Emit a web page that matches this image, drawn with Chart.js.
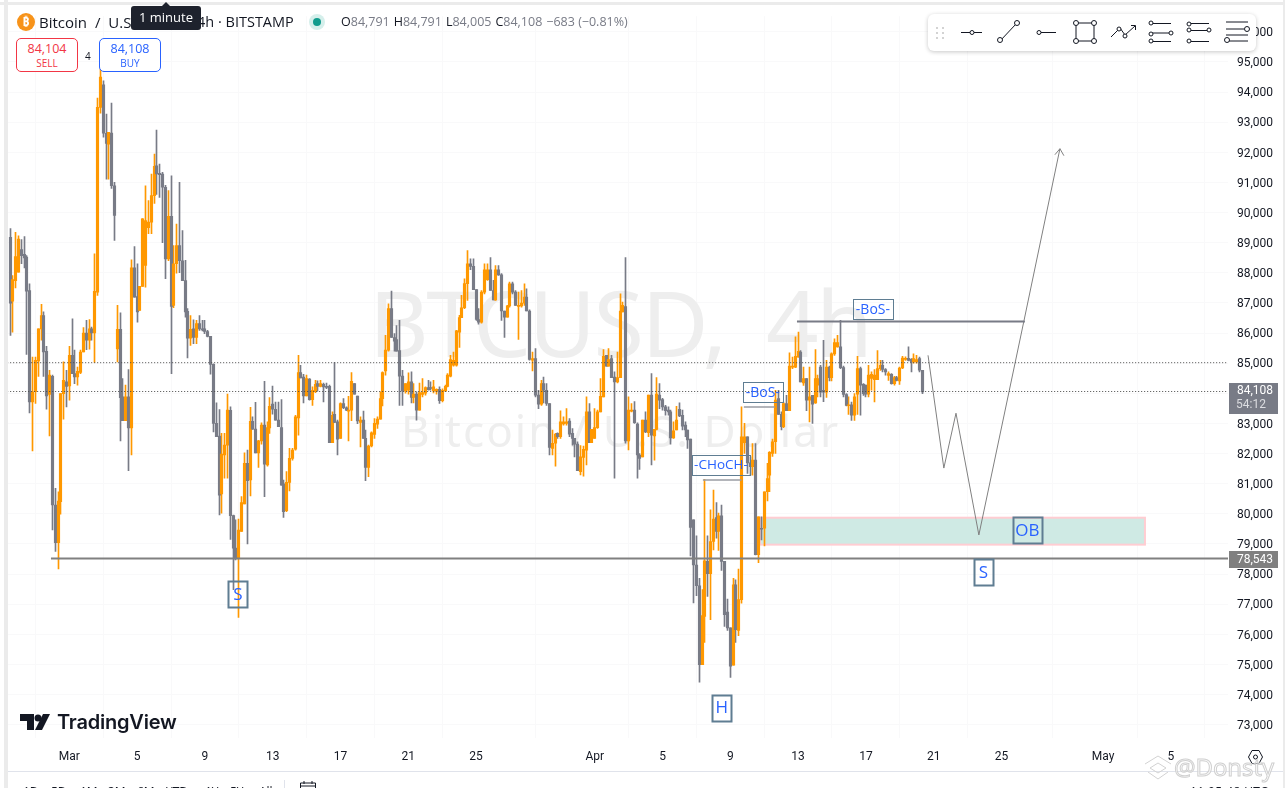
<!DOCTYPE html>
<html>
<head>
<meta charset="utf-8">
<title>BTCUSD 4h</title>
<script src="https://cdn.jsdelivr.net/npm/chart.js@4"></script>
<style>
    html, body { margin: 0; padding: 0; background: #fff; width: 1285px; height: 788px; overflow: hidden; }
    body { font-family: "Open Sans", "Noto Sans", sans-serif; color: #131722; position: relative; }
    canvas { position: absolute; left: 0; top: 0; }
    .abs { position: absolute; white-space: nowrap; }
    .band { position: absolute; background: #ebebeb; }
    .btn { position: absolute; top: 38px; width: 60px; height: 32px; border: 1px solid; border-radius: 5px; background: #fff; text-align: center; }
    .btn b { display: block; font-weight: 400; font-size: 12.5px; line-height: 16px; margin-top: 2px; }
    .btn span { display: block; font-size: 10px; line-height: 13px; }
    .range { position: absolute; top: 783px; font-size: 12px; color: #131722; }
    .ohlc i { font-style: normal; color: #787b86; margin-right: 4px; }
</style>
</head>
<body>
<canvas id="btcChart" width="1285" height="788"></canvas>

<div class="band" style="left:4px;top:0;width:4px;height:788px"></div>
<div class="band" style="left:0;top:2px;width:1285px;height:3px"></div>
<div class="band" style="left:1283px;top:0;width:2px;height:788px"></div>
<div class="abs" style="left:8px;top:771px;width:1275px;height:1px;background:#e0e3eb"></div>
<div class="abs" style="left:284px;top:780px;width:1px;height:8px;background:#e0e3eb"></div>

<!-- header -->
<div class="abs" style="left:17px;top:13px;width:18px;height:18px;border-radius:9px;background:#f7931a;color:#fff;font-size:12px;font-weight:700;line-height:18px;text-align:center">₿</div>
<div class="abs" style="left:39px;top:12px;font-size:15px;line-height:20px;word-spacing:4px">Bitcoin / U.S</div>
<div class="abs" style="left:197px;top:12px;font-size:14.500px;line-height:20px">4h · BITSTAMP</div>
<div class="abs" style="left:309px;top:14px;width:16px;height:16px;border-radius:8px;background:#d5efeb"></div>
<div class="abs" style="left:313px;top:18px;width:8px;height:8px;border-radius:4px;background:#119c8d"></div>
<div class="abs ohlc" style="left:341px;top:13px;font-size:12.500px;line-height:18px">O<i>84,791</i>H<i>84,791</i>L<i>84,005</i>C<i>84,108</i><i>−683 (−0.81%)</i></div>
<div class="abs" style="left:161px;top:2px;width:0;height:0;border-left:5px solid transparent;border-right:5px solid transparent;border-bottom:5px solid #1e222d"></div>
<div class="abs" style="left:131px;top:6px;width:70px;height:24px;background:#1e222d;border-radius:3px;color:#fff;font-size:13px;line-height:23px;text-align:center">1 minute</div>

<div class="btn" style="left:16px;border-color:#f23645;color:#f23645"><b>84,104</b><span>SELL</span></div>
<div class="abs" style="left:85px;top:49px;font-size:10px">4</div>
<div class="btn" style="left:99px;border-color:#2962ff;color:#2962ff"><b>84,108</b><span>BUY</span></div>

<!-- drawing toolbar -->
<div class="abs" style="left:928px;top:14px;width:328px;height:37px;background:#fff;border-radius:6px;box-shadow:0 1px 4px rgba(0,0,0,.22)"></div>
<svg class="abs" style="left:928px;top:14px" width="328" height="37" fill="#fff" stroke="#131722" stroke-width="1">
    <g fill="#c4c4c4" stroke="none"><circle cx="9" cy="14" r="1"/><circle cx="15" cy="14" r="1"/><circle cx="9" cy="19" r="1"/><circle cx="15" cy="19" r="1"/><circle cx="9" cy="24" r="1"/><circle cx="15" cy="24" r="1"/></g>
    <path d="M33 18.500H54"/><circle cx="44" cy="18.500" r="2"/>
    <path d="M72 27L88 10"/><circle cx="72" cy="26" r="2.500"/><circle cx="89" cy="9" r="2.500"/>
    <path d="M111 18.500H128"/><circle cx="111" cy="18.500" r="2"/>
    <path d="M148 9V27H166V9Z" fill="none"/><circle cx="148" cy="9" r="2.500"/><circle cx="166" cy="9" r="2.500"/><circle cx="148" cy="27" r="2.500"/><circle cx="166" cy="27" r="2.500"/>
    <path d="M183 23L192 14L197 21L207 12M203 11.500H207.500V16" fill="none"/><circle cx="191" cy="15" r="2"/><circle cx="197" cy="22" r="2"/>
    <path d="M224 9.500H243M224 27.500H243M224 19H241" fill="none"/><circle cx="223" cy="9" r="2"/><circle cx="223" cy="20" r="2"/><circle cx="223" cy="27" r="2"/><circle cx="243" cy="19" r="2"/>
    <path d="M262 9.500H281M262 27.500H281M262 16.500H281" fill="none"/><circle cx="261" cy="10" r="2"/><circle cx="261" cy="16" r="2"/><circle cx="261" cy="27" r="2"/><circle cx="281" cy="16" r="2"/>
    <path d="M298 8H320M298 15H316M298 21H320M298 27H320" fill="none"/><circle cx="319" cy="15" r="2.500"/><circle cx="299" cy="26" r="2.500"/>
</svg>

<!-- logo -->
<svg class="abs" style="left:20px;top:713px" width="32" height="18" fill="#131722">
    <path d="M0 1H14V17H7V8H0Z"/><circle cx="18" cy="5" r="3.500"/><path d="M23 1H30L22 17H15Z"/>
</svg>
<div class="abs" style="left:57px;top:709px;font-family:Inter,sans-serif;font-size:20px;font-weight:600;line-height:26px;letter-spacing:-.2px">TradingView</div>

<!-- bottom strip, mostly cut by the window -->
<div class="range" style="left:23px">1D</div><div class="range" style="left:51px">5D</div>
<div class="range" style="left:80px">1M</div><div class="range" style="left:108px">3M</div>
<div class="range" style="left:137px">6M</div><div class="range" style="left:166px">YTD</div>
<div class="range" style="left:205px">1Y</div><div class="range" style="left:230px">5Y</div>
<div class="range" style="left:259px">All</div>
<svg class="abs" style="left:299px;top:780px" width="18" height="8" fill="none" stroke="#131722"><path d="M1.500 8V3H16.500V8M5 1V4M13 1V4M1.500 6H16.500"/></svg>
<div class="range" style="left:1190px;letter-spacing:.4px">11:05:48 UTC</div>

<!-- gear -->
<svg class="abs" style="left:1247px;top:749px" width="17" height="16" fill="none" stroke="#131722"><path d="M5 1.500H12L15.500 8L12 14.500H5L1.500 8Z"/><circle cx="8.500" cy="8" r="2"/></svg>

<!-- repost watermark -->
<svg class="abs" style="left:1144px;top:755px" width="28" height="26" fill="none" stroke="#d2d2d2"><path d="M1 9L14 1L27 9M6 13L14 8L22 13L14 18ZM4 17L14 24L24 17"/></svg>
<div class="abs" style="left:1174px;top:750px;font-size:24px;line-height:34px;color:rgba(255,255,255,.6);-webkit-text-stroke:1px #d0d0d0">@Donsty</div>

<script>
// 4h candles
const opens = [
    89180,87060,87740,88020,88770,88610,88520,87410,83710,84050,
    85070,86140,86580,85390,83960,84560,80290,79040,80400,83990,
    84380,84240,85260,84650,84540,84690,85370,86000,85760,86140,
    86000,87360,93490,94240,92630,92270,92640,90890,85470,86120,
    83880,83090,83880,82850,88160,87210,86750,87550,88240,89500,
    89680,90560,91550,91300,91280,90840,88460,89870,86920,88300,
    88900,88400,87740,86720,85830,86140,85850,86310,86140,86140,
    86050,85890,84960,83000,82580,80660,81950,82280,83430,79940,
    78860,78520,79410,80330,81670,81120,83070,82810,82020,82420,
    82940,81620,82850,83640,83470,83110,82860,80990,80100,81040,
    81840,82140,83180,84690,84540,83910,84470,83790,84050,84320,
    84230,84300,84230,84230,82360,83300,83050,82500,83660,83520,
    83410,83440,84320,83910,83030,83110,82500,81540,82250,82630,
    82970,83140,83820,84740,85430,86810,85850,85780,85420,84570,
    84080,84100,84380,83860,83970,83440,83960,84000,84190,84190,
    84080,84060,84130,83750,84080,84230,84570,84930,84930,86030,
    86510,86840,87640,88300,88210,87440,86450,86360,87360,87770,
    88100,87410,87100,88100,87930,86730,86530,86900,87630,87360,
    86900,86900,86990,87190,86730,85100,85150,83940,83640,84320,
    84100,83660,82170,82340,82670,82560,82980,83000,83080,82670,
    82500,82310,81400,81870,82110,83380,82360,82500,82860,83380,
    83880,85260,84900,85150,84540,84380,84520,86700,86880,82420,
    83420,83440,82980,81950,81890,83110,82690,83940,82580,82800,
    83940,83790,83550,83440,83380,82520,82780,83470,83270,82940,
    82780,82480,79800,78300,77610,74990,76590,78420,78010,79080,
    79870,79410,79930,78420,76740,76210,74970,77640,76130,77150,
    82360,82550,81690,81560,81780,78640,79520,79520,80730,81280,
    82000,82390,83820,83300,82890,83660,83420,84870,84870,85200,
    85370,84340,84490,83770,83930,83680,84270,84870,84100,84040,
    84870,84520,85310,85540,85540,84850,83960,83600,83620,83270,
    83970,84820,84300,84270,83970,84490,84450,84450,84820,84930,
    84790,84590,84630,84320,84520,84410,84840,85130,85160,85130,
    85040,85040,85150,84763
];
const highs = [
    89470,87910,89340,89230,89100,89200,88570,87630,85200,85200,
    86140,86950,86700,85560,84760,84600,80840,80730,83990,85040,
    84760,85560,86470,85430,84870,85430,86180,86420,86450,86200,
    88630,93800,95090,94370,93270,92660,93630,91000,86920,86670,
    84490,84270,84790,88430,88870,88300,87550,89800,90890,90400,
    91280,91940,92740,91610,91330,90900,90730,91220,88900,89620,
    91000,89400,88410,86810,86580,86440,86420,86580,86420,86420,
    86090,85890,84980,83680,83460,82670,82670,83970,83550,79960,
    79800,79820,80570,82020,82110,83530,83220,83700,82440,83020,
    84400,83050,83860,84240,83710,83710,83790,81120,81400,82170,
    82170,83270,85260,84930,84630,84600,84490,84210,84430,84410,
    84430,84340,84340,84270,83380,85020,83110,83680,83820,83550,
    83900,84690,84320,83910,83220,83410,82780,82280,82720,83160,
    83220,84050,84710,85920,86970,87390,85980,86250,86420,84760,
    84320,84680,84710,84320,84050,84340,84490,84210,84430,84380,
    84430,84150,84210,84150,84270,84650,85260,85370,86090,86590,
    87250,87800,88740,88460,88460,87440,86810,87410,88300,88300,
    88500,87750,88240,88240,87970,86730,86920,87690,87690,87410,
    87360,87410,87630,87470,86770,85370,85480,84100,84430,84540,
    84320,83660,82780,82670,82690,83420,83220,83490,83160,82830,
    82500,82390,82260,82250,83880,83660,82800,83490,83440,84490,
    85450,85260,85480,85260,84710,85370,87300,87030,88500,83880,
    83660,83720,83020,82000,83110,83380,83940,84650,82800,84520,
    84320,83830,83600,83550,83440,83050,83570,83680,83440,83050,
    82780,82480,79800,79270,77860,77480,81140,79270,80130,80790,
    80370,80020,80290,78420,77170,76210,77860,77810,78160,83550,
    83000,82550,81890,82330,82330,79900,79900,80730,81670,82060,
    82480,84100,84100,83380,83710,83930,85340,85200,85870,86030,
    85420,84870,84490,84870,83930,85450,84600,84930,85760,85090,
    84900,85340,85810,85920,86420,84900,83990,83880,83710,83990,
    85230,84870,84320,84270,84930,84710,84790,85420,85090,85090,
    84820,84710,84650,84560,84560,84870,85230,85210,85540,85150,
    85310,85260,85200,84763
];
const lows = [
    85920,86030,87500,88020,88300,88160,85290,83350,82090,83660,
    84560,85760,84560,83470,82580,79460,78750,78170,79990,83140,
    83550,83770,84650,84320,84270,84650,85370,85450,85460,85760,
    85020,87250,93300,92500,91110,91110,90800,89070,85040,82420,
    83090,83090,81430,81950,87190,86360,86750,87550,87520,89300,
    89300,90300,90600,90500,89000,87800,88400,84650,86840,87990,
    88000,87740,86530,85170,85590,85650,85650,86090,86070,85980,
    85870,84630,82720,82560,79960,80020,81180,81180,79150,77480,
    78470,76560,79410,80330,79000,80590,82800,82020,81540,82310,
    80570,81580,82670,83310,83110,82890,80950,79880,80070,80760,
    81780,82110,82610,84510,83680,83910,83770,83600,84020,84070,
    84210,83710,84150,82360,82360,83020,81950,82500,83490,83420,
    82420,83090,83970,82990,82220,82500,81100,81230,82220,82500,
    82830,83140,83580,84600,85400,85850,85400,85400,83600,83600,
    84000,83970,83680,83680,83110,83440,83880,83940,84100,84100,
    84010,83970,83660,83710,84050,84210,84540,84900,84900,85520,
    86510,86810,87080,88100,87440,86420,86290,86330,87300,87750,
    87410,87100,87080,87910,86420,85850,86530,86860,87300,86920,
    85790,86860,86920,86730,85100,84740,83880,83490,83600,83680,
    83600,81950,81950,81580,82500,82500,82940,82940,82560,82280,
    81890,81430,81290,81250,81620,82360,82360,82500,82830,83380,
    83880,84900,84900,84520,81180,84340,84520,86700,82340,82120,
    83380,83000,81180,81470,81890,82690,82560,81620,81780,82780,
    83490,83440,83270,83270,82310,82500,82780,83220,82780,82560,
    82170,78600,77040,77280,74410,74990,75730,77260,76480,78800,
    79190,78780,78120,76260,76130,74570,74970,75730,75950,77030,
    82000,81340,81280,81280,78630,78380,79130,78930,80430,80730,
    81900,82000,83300,82780,82860,83420,83420,84820,84850,85200,
    84380,84260,83420,83050,83000,83660,83880,83880,83720,83860,
    84410,84410,85260,85530,84820,83880,83580,83300,83100,83100,
    83300,83270,83930,83880,83880,84100,83710,84450,84760,84710,
    84600,84430,84300,84270,84410,84290,84820,85090,85070,84710,
    85000,85000,84710,83990
];
const closes = [
    86990,87770,88540,89120,88570,88490,87390,83710,84050,85090,
    86140,86580,85370,83910,84600,80290,79040,80420,83990,84430,
    84230,85260,84650,84540,84730,85370,86000,85760,86140,86000,
    87380,93490,94500,92630,92290,92660,90890,89900,86120,83850,
    83090,83880,82850,88160,87190,86700,87550,89790,89730,89680,
    90560,91530,91280,91260,90840,88460,89870,86880,88300,88900,
    88400,87740,86700,85830,86120,85850,86310,86140,86110,86050,
    85890,84960,83000,82560,80620,81980,82280,83440,79940,78860,
    78520,79460,80370,81670,81100,83070,82810,82020,82420,82940,
    81650,82860,83570,83470,83110,82890,80950,80070,81040,81840,
    82110,83220,84690,84510,83910,84490,83790,84100,84300,84230,
    84320,84210,84210,82360,83270,83030,82480,83660,83520,83440,
    83440,84400,83970,83080,83110,82500,81540,82250,82690,83000,
    83140,83820,84690,85430,86810,85850,85730,85400,84570,84080,
    84320,84380,83860,83970,83440,84020,84020,84190,84120,84160,
    84210,84130,83750,84100,84230,84600,85120,85090,86070,86510,
    86840,87640,88300,88210,87440,86450,86360,87360,88100,88100,
    87410,87100,88100,87930,86730,86530,86900,87630,87360,86920,
    86920,86990,87190,86730,85120,85150,83940,83640,84320,84100,
    83660,82200,82340,82640,82560,83050,83050,83050,82640,82500,
    82310,81430,81890,82140,83380,82360,82800,82860,83380,83900,
    85230,84900,85120,84520,84380,84520,86730,86920,82420,83440,
    83440,83020,81950,81840,83110,82720,83940,82610,82800,83970,
    83770,83550,83420,83380,82520,82750,83110,83250,82910,82780,
    82450,79550,78300,77610,74990,76620,78440,78010,79080,79820,
    79410,79930,78420,76650,76210,74940,77640,76150,77150,82550,
    82550,81690,81560,81780,78640,79900,79500,80730,81170,82040,
    82390,83770,83300,82890,83660,83420,84900,84900,85230,85390,
    84380,84490,83770,83880,83640,84490,84490,84040,84040,84870,
    84520,85310,85680,85680,84850,83960,83600,83620,83270,83880,
    84820,84270,83990,83970,84600,84630,84600,84820,84930,84790,
    84710,84650,84320,84520,84430,84840,85170,85160,85090,85040,
    85150,85120,84770,84046
];

// axis ticks
const priceTicks = [73000,74000,75000,76000,77000,78000,79000,80000,81000,82000,83000,84000,85000,86000,87000,88000,89000,90000,91000,92000,93000,94000,95000,96000];
const timeTicks = [21,45,69,93,117,141,165,207,231,255,279,303,327,351,387,411];
const timeLabels = ['Mar','5','9','13','17','21','25','Apr','5','9','13','17','21','25','May','5'];

// levels and the drawn forecast, as read against the axis labels
const supportLevel = 78512;
const lastPrice = 84058;
const dottedLevel = 85015;
const bosLevel = 86386;
const chochLevel = 81120;
const lowerBosLevel = 83540;
const pathX = [325, 330.6, 334.9, 343, 359, 371.7];
const pathY = [85260, 81516, 83338, 79296, 86420, 92118];
const zoneX = [265.5, 401.8];
const zoneY = [79869, 78975];
const boxTexts = ['S', 'S', 'H', 'OB', '-CHoCH-', '-BoS-', '-BoS-'];
const boxX = [80.7, 344.6, 252, 360.2, 251.7, 266.5, 305.5];
const boxY = [77342, 78070, 73565, 79446, 81632, 84050, 86784];

const candleX = closes.map((c, i) => i);
const upColor = '#ff9800';
const downColor = '#787b86';
const candleColor = ctx => closes[ctx.dataIndex] >= opens[ctx.dataIndex] ? upColor : downColor;
const axisFont = { family: 'Roboto', size: 12 };

// watermark and OB zone sit under the candles
const underlay = {
    id: 'underlay',
    beforeDatasetsDraw(chart) {
        const { ctx, scales: { x, y } } = chart;
        ctx.save();
        ctx.textBaseline = 'alphabetic';
        ctx.textAlign = 'left';
        ctx.fillStyle = '#eeeeee';
        ctx.font = '92px "Noto Sans"';
        ctx.letterSpacing = '-2.5px';
        ctx.fillText('BTCUSD,', 369, 357);
        ctx.fillText('4h', 766, 357);
        ctx.font = '44px "Noto Sans"';
        ctx.letterSpacing = '2.05px';
        ctx.fillText('Bitcoin / U.S. Dollar', 401, 447);
        ctx.letterSpacing = '0px';
        const zx = x.getPixelForValue(zoneX[0]), zw = x.getPixelForValue(zoneX[1]) - zx;
        const zy = y.getPixelForValue(zoneY[0]), zh = y.getPixelForValue(zoneY[1]) - zy;
        ctx.fillStyle = '#cfeae4';
        ctx.fillRect(zx, zy, zw, zh);
        ctx.strokeStyle = '#ffcdd2';
        ctx.lineWidth = 2;
        ctx.strokeRect(zx, zy, zw, zh);
        ctx.restore();
    }
};

// keep candles on whole pixels, dojis at least 1px tall
const snapCandles = {
    id: 'snapCandles',
    afterDatasetsUpdate(chart) {
        [0, 1].forEach(d => {
            chart.getDatasetMeta(d).data.forEach(bar => {
                bar.x = Math.floor(bar.x) + 0.5;
                if (Math.abs(bar.base - bar.y) < 1) bar.base = bar.y + 1;
            });
        });
    }
};

// boxes, arrow head, price tags
const overlay = {
    id: 'overlay',
    afterDatasetsDraw(chart) {
        const { ctx, scales: { x, y } } = chart;
        ctx.save();
        ctx.textAlign = 'center';
        ctx.textBaseline = 'middle';
        boxTexts.forEach((t, i) => {
            const long = t.length > 2;
            const w = t === '-CHoCH-' ? 58 : t === '-BoS-' ? 40 : t === 'OB' ? 29 : 19;
            const h = long ? 20 : 26;
            const cx = x.getPixelForValue(boxX[i]), cy = y.getPixelForValue(boxY[i]);
            ctx.strokeStyle = '#5f7d92';
            ctx.lineWidth = long ? 1 : 2;
            ctx.strokeRect(Math.round(cx - w / 2) + 0.5, Math.round(cy - h / 2) + 0.5, w, h);
            ctx.fillStyle = '#2962ff';
            ctx.font = (t === '-CHoCH-' ? 13.5 : long ? 14 : 17) + 'px "Open Sans"';
            ctx.fillText(t, cx, cy + 1);
        });

        // arrow head on the forecast line
        const ax = x.getPixelForValue(pathX[pathX.length - 1]);
        const ay = y.getPixelForValue(pathY[pathY.length - 1]);
        ctx.strokeStyle = '#808080';
        ctx.lineWidth = 1;
        ctx.beginPath();
        ctx.moveTo(ax - 5, ay + 6);
        ctx.lineTo(ax, ay);
        ctx.lineTo(ax + 4, ay + 7);
        ctx.stroke();

        // right axis tags
        ctx.fillStyle = '#787b86';
        ctx.fillRect(1229, 383, 49, 31);
        ctx.fillStyle = '#808080';
        ctx.fillRect(1229, 551, 49, 17);
        ctx.font = '12px Roboto';
        ctx.fillStyle = '#ffffff';
        ctx.fillText('84,108', 1255, 391);
        ctx.fillText('78,543', 1255, 560);
        ctx.fillStyle = '#dcdde1';
        ctx.fillText('54:12', 1251, 405);
        ctx.restore();
    }
};

const hLine = (level, from, to, color, width, dash) => ({
    type: 'line',
    data: [{ x: from, y: level }, { x: to, y: level }],
    borderColor: color,
    borderWidth: width,
    borderDash: dash || [],
    pointRadius: 0,
    order: 1
});

const ctxCandles = document.getElementById('btcChart').getContext('2d');
const btcChart = new Chart(ctxCandles, {
    type: 'bar',
    data: {
        datasets: [
            {
                label: 'wick',
                data: candleX.map(i => ({ x: i, y: [lows[i], highs[i]] })),
                backgroundColor: candleColor,
                barThickness: 1,
                grouped: false,
                order: 5
            },
            {
                label: 'body',
                data: candleX.map(i => ({ x: i, y: [opens[i], closes[i]] })),
                backgroundColor: candleColor,
                barThickness: 2.5,
                grouped: false,
                order: 4
            },
            hLine(supportLevel, 14.5, 432, '#808080', 2),
            hLine(dottedLevel, -1, 432, '#4a4a4a', 1, [1, 2]),
            hLine(lastPrice, -1, 432, '#4a4a4a', 1, [1, 2]),
            hLine(bosLevel, 278.6, 359.3, '#787b86', 2),
            hLine(chochLevel, 245.3, 259, '#9a9ca3', 1.5),
            hLine(lowerBosLevel, 259.8, 270.8, '#9a9ca3', 1.5),
            {
                type: 'line',
                data: pathX.map((v, i) => ({ x: v, y: pathY[i] })),
                borderColor: '#808080',
                borderWidth: 1,
                pointRadius: 0,
                order: 1
            }
        ]
    },
    plugins: [snapCandles, underlay, overlay],
    options: {
        responsive: false,
        animation: false,
        devicePixelRatio: 1,
        layout: { padding: { left: 8, top: 8, right: 0, bottom: 0 } },
        plugins: { legend: { display: false }, tooltip: { enabled: false } },
        scales: {
            x: {
                type: 'linear',
                offset: false,
                min: -0.71,
                max: 431.2,
                grid: { color: '#f9f9fa', drawTicks: false },
                border: { display: false },
                afterBuildTicks: axis => { axis.ticks = timeTicks.map(v => ({ value: v })); },
                afterFit: axis => { axis.height = 50; },
                ticks: {
                    autoSkip: false,
                    maxRotation: 0,
                    padding: 12,
                    color: '#131722',
                    font: axisFont,
                    callback: value => timeLabels[timeTicks.indexOf(value)]
                }
            },
            y: {
                position: 'right',
                min: 72556,
                max: 96517,
                grid: { color: '#f9f9fa', drawTicks: false },
                border: { display: false },
                afterBuildTicks: axis => { axis.ticks = priceTicks.map(v => ({ value: v })); },
                afterFit: axis => { axis.width = 57; },
                ticks: {
                    autoSkip: false,
                    padding: 9,
                    labelOffset: 1.3,
                    color: '#131722',
                    font: axisFont,
                    callback: value => value.toLocaleString('en-US')
                }
            }
        }
    }
});
</script>
</body>
</html>
